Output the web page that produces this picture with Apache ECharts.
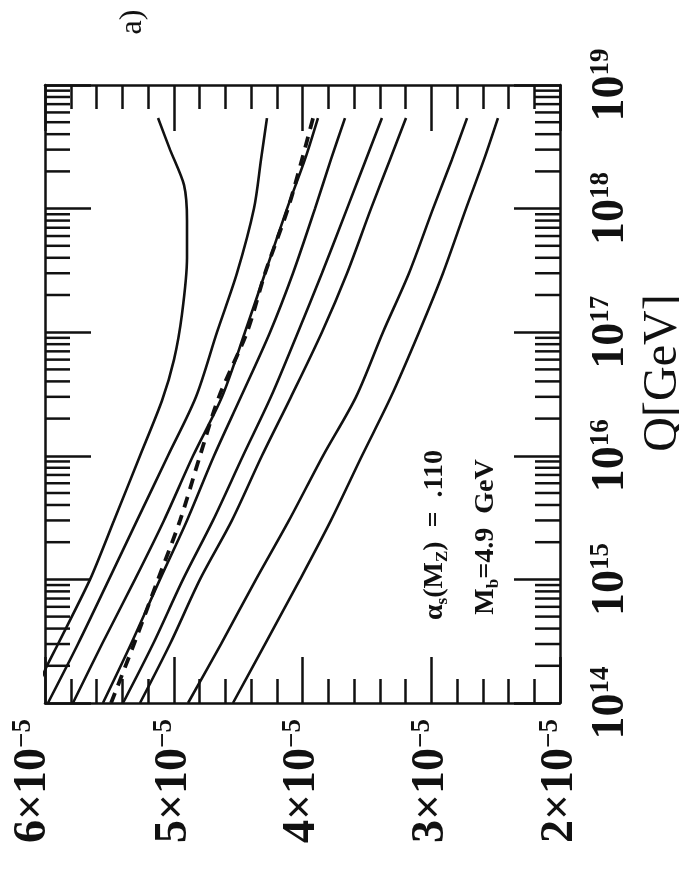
<!DOCTYPE html>
<html><head><meta charset="utf-8">
<script src="https://cdn.jsdelivr.net/npm/echarts@6/dist/echarts.min.js"></script>
<style>html,body{margin:0;padding:0;background:#fff}#c{width:679px;height:880px}</style>
</head><body><div id="c"></div>
<script>
// Q values (GeV) at which the curves were read
const qValues = [1e14, 3e14, 1e15, 3e15, 1e16, 3e16, 1e17, 3e17, 1e18, 2.5e18, 5.4e18];
// the bending top curve was read at its own Q points
const qValuesA = [1e14, 2e14, 3e14, 1e15, 3e15, 1e16, 2.8e16, 6e16, 1.4e17, 4e17, 8e17, 1.55e18, 3e18, 5.4e18];
// curve values in units of 1e-5
const curveA = [6.117, 5.984, 5.899, 5.650, 5.464, 5.262, 5.091, 4.998, 4.936, 4.897, 4.897, 4.920, 5.029, 5.122];
const curveB = [5.977, 5.744, 5.503, 5.285, 5.045, 4.827, 4.664, 4.509, 4.377, 4.322, 4.276];
const curveC = [5.783, 5.557, 5.301, 5.076, 4.850, 4.625, 4.447, 4.291, 4.120, 3.981, 3.880];
const curveDashed = [5.487, 5.309, 5.122, 4.951, 4.796, 4.649, 4.431, 4.291, 4.113, 4.004, 3.918];
const curveE = [5.550, 5.332, 5.107, 4.897, 4.687, 4.478, 4.252, 4.074, 3.903, 3.779, 3.670];
const curveF = [5.394, 5.161, 4.928, 4.695, 4.462, 4.245, 4.035, 3.849, 3.654, 3.507, 3.383];
const curveG = [5.262, 5.029, 4.796, 4.548, 4.315, 4.089, 3.849, 3.654, 3.468, 3.320, 3.196];
const curveH = [4.889, 4.633, 4.361, 4.105, 3.841, 3.584, 3.375, 3.173, 2.986, 2.839, 2.722];
const curveI = [4.540, 4.291, 4.019, 3.779, 3.538, 3.313, 3.095, 2.909, 2.730, 2.590, 2.482];
const solidCurves = [curveB, curveC, curveE, curveF, curveG, curveH, curveI];
// axis ticks
const valueTicks = [6, 5, 4, 3, 2];           // ×1e-5
const qDecades = [14, 15, 16, 17, 18, 19];
const qMinorTicks = [];
for (let e = 14; e < 19; e++) for (let m = 2; m <= 9; m++) qMinorTicks.push(m * Math.pow(10, e));

const SCALE = 1e-5;
const toPts = (arr, qs) => arr.map((v, i) => [v * SCALE, qs[i]]);

const chart = echarts.init(document.getElementById('c'), null, {renderer: 'canvas'});
const serif = 'Liberation Serif';
const black = '#111';

const bigRich = {
  b: {fontFamily: serif, fontSize: 46, fontWeight: 'bold', color: black, verticalAlign: 'bottom', lineHeight: 46},
  s: {fontFamily: serif, fontSize: 27, fontWeight: 'bold', color: black, verticalAlign: 'top', lineHeight: 46},
  g: {fontSize: 10, lineHeight: 24, height: 24}
};
const valueLabel = {
  show: true, rotate: 90, margin: 16, color: black,
  formatter: v => {
    const n = Math.round(v / SCALE);
    return n === valueTicks[0] ? '{b|' + n + '×10}{s|−5}\n{g| }' : '{b|' + n + '×10}{s|−5}';
  },
  rich: bigRich
};
const qLabel = {
  show: true, rotate: 90, margin: 28, color: black,
  formatter: v => '{b|10}{s|' + Math.round(Math.log10(v)) + '}',
  rich: bigRich
};
const lineSt = {color: black, width: 2.5};

const xBase = {
  type: 'value', inverse: true, min: 2 * SCALE, max: 6 * SCALE, interval: 1 * SCALE,
  axisLine: {show: true, onZero: false, lineStyle: lineSt},
  axisTick: {show: true, inside: true, length: 46, lineStyle: lineSt},
  minorTick: {show: true, splitNumber: 5, length: 24, lineStyle: lineSt},
  splitLine: {show: false}, minorSplitLine: {show: false}
};
const yBase = {
  type: 'log', logBase: 10, min: Math.pow(10, qDecades[0]), max: Math.pow(10, qDecades[qDecades.length - 1]),
  axisLine: {show: true, onZero: false, lineStyle: lineSt},
  axisTick: {show: true, inside: true, length: 46, lineStyle: lineSt},
  splitLine: {show: false}
};

const lineSeries = (data, smooth, style) => ({
  type: 'line', data: data, smooth: smooth, showSymbol: false, symbol: 'none',
  lineStyle: style, xAxisIndex: 0, yAxisIndex: 0, clip: true, z: 3
});
const series = [lineSeries(toPts(curveA, qValuesA), 0.25, {color: black, width: 2.6})];
solidCurves.forEach(c => series.push(lineSeries(toPts(c, qValues), 0.3, {color: black, width: 2.6})));
series.push(lineSeries(toPts(curveDashed, qValues), 0.3, {color: black, width: 3.8, type: [11, 8]}));
series.push({
  type: 'custom', xAxisIndex: 0, yAxisIndex: 0, clip: false, silent: true,
  data: qMinorTicks.map(q => [q]),
  renderItem: (params, api) => {
    const q = api.value(0);
    const l = api.coord([valueTicks[0] * SCALE, q]);
    const r = api.coord([valueTicks[valueTicks.length - 1] * SCALE, q]);
    return {type: 'group', children: [
      {type: 'line', shape: {x1: l[0], y1: l[1], x2: l[0] + 25, y2: l[1]}, style: {stroke: black, lineWidth: 2.5}},
      {type: 'line', shape: {x1: r[0], y1: r[1], x2: r[0] - 25, y2: r[1]}, style: {stroke: black, lineWidth: 2.5}}
    ]};
  }
});

const annRich = {
  m: {fontFamily: serif, fontSize: 28, fontWeight: 'bold', fill: black, lineHeight: 32},
  u: {fontFamily: serif, fontSize: 17, fontWeight: 'bold', fill: black, verticalAlign: 'bottom', lineHeight: 32}
};

chart.setOption({
  backgroundColor: '#fff',
  animation: false,
  grid: {left: 45, right: 119, top: 85, bottom: 177, containLabel: false, outerBoundsMode: 'none'},
  xAxis: [
    Object.assign({}, xBase, {position: 'bottom', axisLabel: valueLabel}),
    Object.assign({}, xBase, {position: 'top', axisLabel: {show: false}})
  ],
  yAxis: [
    Object.assign({}, yBase, {position: 'right', axisLabel: qLabel,
      name: 'Q[GeV]', nameLocation: 'middle', nameRotate: 90, nameGap: 79, nameMoveOverlap: false,
      nameTextStyle: {fontFamily: serif, fontSize: 48, color: black, padding: [0, 0, 0, 42]}}),
    Object.assign({}, yBase, {position: 'left', axisLabel: {show: false}})
  ],
  series: series,
  graphic: [
    {type: 'text', x: 133, y: 22, rotation: Math.PI / 2,
      style: {text: 'a)', fontFamily: serif, fontSize: 32, fill: black, align: 'center', verticalAlign: 'middle'}},
    {type: 'text', x: 435, y: 535, rotation: Math.PI / 2,
      style: {text: '{m|α}{u|s}{m|(M}{u|Z}{m|)  =  .110}', align: 'center', verticalAlign: 'middle', rich: annRich}},
    {type: 'text', x: 486, y: 537, rotation: Math.PI / 2,
      style: {text: '{m|M}{u|b}{m|=4.9  GeV}', align: 'center', verticalAlign: 'middle', rich: annRich}}
  ]
});
</script>
</body></html>
